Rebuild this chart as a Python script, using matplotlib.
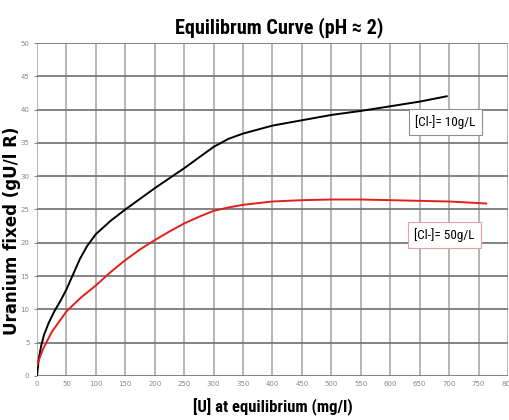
import numpy as np
import matplotlib
matplotlib.use('Agg')
from matplotlib import pyplot as plt
from matplotlib import font_manager

# [Cl-] = 10 g/L
x_10 = [0, 3, 7, 12, 20, 30, 40, 50, 60, 73, 85, 100, 125, 150, 175, 200, 225, 250, 275, 300, 325, 350, 375, 400, 450, 500, 550, 600, 650, 696]
y_10 = [0, 2.6, 4.5, 6.2, 8.0, 9.8, 11.3, 13.0, 15.0, 17.6, 19.5, 21.3, 23.3, 25.0, 26.6, 28.2, 29.7, 31.2, 32.8, 34.4, 35.6, 36.4, 37.0, 37.6, 38.4, 39.2, 39.8, 40.5, 41.2, 42.0]

# [Cl-] = 50 g/L
x_50 = [0, 10, 25, 50, 75, 100, 125, 150, 175, 200, 225, 250, 275, 300, 325, 350, 400, 450, 500, 550, 600, 700, 763]
y_50 = [1.6, 4.0, 6.6, 9.7, 11.8, 13.6, 15.6, 17.4, 19.0, 20.4, 21.7, 22.9, 23.9, 24.8, 25.3, 25.7, 26.2, 26.4, 26.5, 26.5, 26.4, 26.2, 25.9]

x_ticks = list(range(0, 801, 50))
y_ticks = list(range(0, 51, 5))

names = set(f.name for f in font_manager.fontManager.ttflist)
narrow = [n for n in ['Liberation Sans Narrow', 'DejaVu Sans Condensed', 'Roboto Condensed'] if n in names] + ['DejaVu Sans']

fig = plt.figure(figsize=(5.09, 4.2), dpi=100)
ax = fig.add_axes([0.0727, 0.1048, 0.998 - 0.0727, 0.8976 - 0.1048])

ax.plot(x_10, y_10, color='black', lw=1.4, zorder=3)
ax.plot(x_50, y_50, color='#e0201b', lw=1.4, zorder=3)

ax.set_xlim(0, 800)
ax.set_ylim(0, 50)
ax.set_xticks(x_ticks)
ax.set_yticks(y_ticks)
ax.tick_params(labelsize=5, colors='#888888', length=2, width=0.8)
ax.tick_params(axis='x', length=0)
for lab in ax.get_xticklabels() + ax.get_yticklabels():
    lab.set_color('#888888')

for v in x_ticks:
    ax.axvline(v, color='#b0b0b0', lw=1.3, zorder=1)
for v in y_ticks:
    ax.axhline(v, color='#7a7a7a', lw=1.3, zorder=1)
for s in ax.spines.values():
    s.set_visible(False)

ax.set_title('Equilibrum Curve (pH \u2248 2)', fontsize=14.6, fontweight='bold', family=narrow, pad=7, x=0.515)
ax.set_xlabel('[U] at equilibrium (mg/l)', fontsize=12, fontweight='bold', family=narrow, labelpad=8)
ax.set_ylabel('Uranium fixed (gU/l R)', fontsize=12, fontweight='bold', family='DejaVu Sans')
ax.yaxis.set_label_coords(-0.034, 0.435)

ax.text(694, 38.2, '[Cl-]= 10g/L', fontsize=9.5, family=narrow, ha='center', va='center', zorder=4,
        bbox=dict(boxstyle='square,pad=0.45', fc='white', ec='#909090', lw=0.8))
ax.text(692, 21.2, '[Cl-]= 50g/L', fontsize=9.5, family=narrow, ha='center', va='center', zorder=4,
        bbox=dict(boxstyle='square,pad=0.45', fc='white', ec='#e8a0a0', lw=0.8))

plt.savefig('out.png', dpi=100)
plt.close()
